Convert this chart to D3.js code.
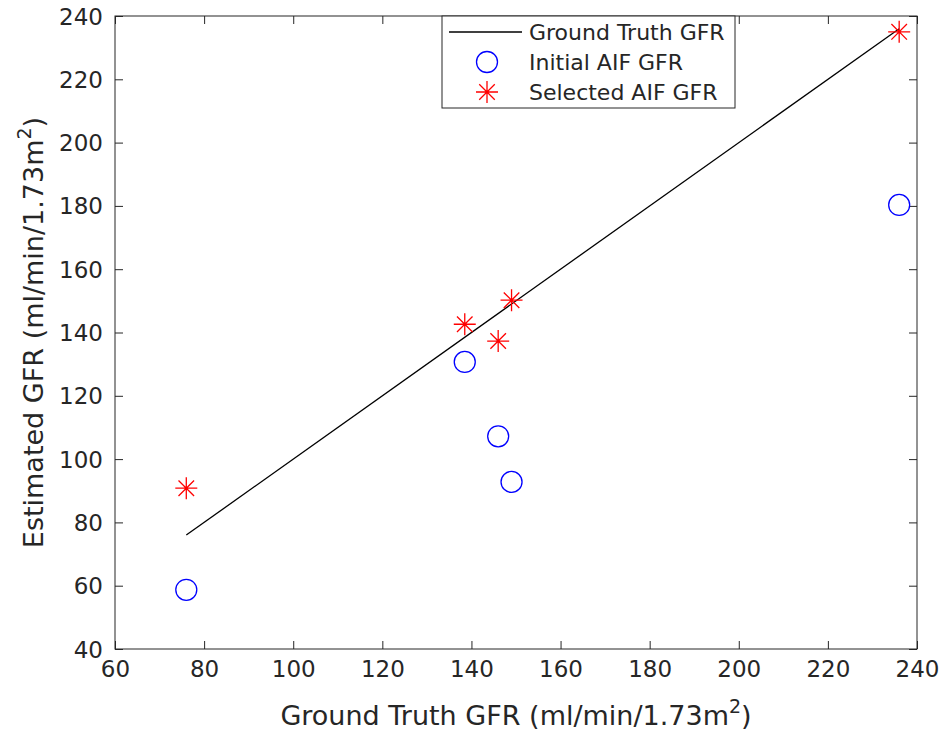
<!DOCTYPE html>
<html><head><meta charset="utf-8">
<script src="https://cdn.jsdelivr.net/npm/d3@7"></script>
<style>body{margin:0;background:#fff}svg{display:block}text{font-family:"DejaVu Sans",sans-serif;fill:#262626}</style>
</head><body>
<script>
const groundTruth = [76, 138.5, 146, 149, 236];
const initialAIF = [58.7, 130.7, 107.2, 92.8, 180.3];
const selectedAIF = [90.8, 142.6, 137.3, 150.2, 235];
const xTicks = [60,80,100,120,140,160,180,200,220,240];
const yTicks = [40,60,80,100,120,140,160,180,200,220,240];

const W=942,H=732, L=115,R=917,T=16,B=649;
const svg=d3.select("body").append("svg").attr("width",W).attr("height",H);
const x=d3.scaleLinear().domain([60,240]).range([L,R]);
const y=d3.scaleLinear().domain([40,240]).range([B,T]);
const ax="#262626";

svg.append("rect").attr("x",L).attr("y",T).attr("width",R-L).attr("height",B-T).attr("fill","none").attr("stroke",ax).attr("stroke-width",1);
const tl=8;
const gx=svg.append("g").attr("transform",`translate(0,${B})`).call(d3.axisBottom(x).tickValues(xTicks).tickSizeInner(-tl).tickSizeOuter(0).tickPadding(12));
const gy=svg.append("g").attr("transform",`translate(${L},0)`).call(d3.axisLeft(y).tickValues(yTicks).tickSizeInner(-tl).tickSizeOuter(0).tickPadding(12));
const gx2=svg.append("g").attr("transform",`translate(0,${T})`).call(d3.axisTop(x).tickValues(xTicks).tickSizeInner(-tl).tickSizeOuter(0).tickFormat(""));
const gy2=svg.append("g").attr("transform",`translate(${R},0)`).call(d3.axisRight(y).tickValues(yTicks).tickSizeInner(-tl).tickSizeOuter(0).tickFormat(""));
[gx,gy,gx2,gy2].forEach(g=>{g.select(".domain").remove();g.selectAll("line").attr("stroke",ax);g.selectAll("text").attr("font-size",23).attr("fill",ax).style("font-family","DejaVu Sans");});
gy.selectAll("text").attr("dy","0.35em");

const ext=d3.extent(groundTruth);
svg.append("path").attr("d",d3.line()([[x(ext[0]),y(ext[0])],[x(ext[1]),y(ext[1])]])).attr("stroke","#000").attr("stroke-width",1.3).attr("fill","none");

svg.selectAll("circle.ini").data(groundTruth.map((g,i)=>[g,initialAIF[i]])).join("circle")
 .attr("cx",d=>x(d[0])).attr("cy",d=>y(d[1])).attr("r",10.5).attr("fill","none").attr("stroke","#0000ff").attr("stroke-width",1.3);

function star(g,cx,cy,r){
  const d=r*0.707;
  g.append("path").attr("d",`M${cx-r},${cy}L${cx+r},${cy}M${cx},${cy-r}L${cx},${cy+r}M${cx-d},${cy-d}L${cx+d},${cy+d}M${cx-d},${cy+d}L${cx+d},${cy-d}`)
   .attr("stroke","#ff0000").attr("stroke-width",1.3).attr("fill","none");
}
const sg=svg.append("g");
groundTruth.forEach((g,i)=>star(sg,x(g),y(selectedAIF[i]),11));

const lg=svg.append("g");
lg.append("rect").attr("x",442).attr("y",T).attr("width",293).attr("height",92).attr("fill","#fff").attr("stroke",ax).attr("stroke-width",1);
lg.append("line").attr("x1",449).attr("x2",522).attr("y1",32).attr("y2",32).attr("stroke","#000").attr("stroke-width",1.3);
lg.append("circle").attr("cx",487).attr("cy",62).attr("r",10.5).attr("fill","none").attr("stroke","#0000ff").attr("stroke-width",1.3);
star(lg,487,92,11);
const legTexts=["Ground Truth GFR","Initial AIF GFR","Selected AIF GFR"];
legTexts.forEach((t,i)=>lg.append("text").attr("x",529).attr("y",32+30*i).attr("dy","0.35em").attr("font-size",22).text(t));

const xl=svg.append("text").attr("x",(L+R)/2).attr("y",725).attr("text-anchor","middle").attr("font-size",27);
xl.append("tspan").text("Ground Truth GFR (ml/min/1.73m");
xl.append("tspan").attr("font-size",19).attr("dy",-12).text("2");
xl.append("tspan").attr("dy",12).text(")");
const yl=svg.append("text").attr("transform",`translate(43,${(T+B)/2}) rotate(-90)`).attr("text-anchor","middle").attr("font-size",27);
yl.append("tspan").text("Estimated GFR (ml/min/1.73m");
yl.append("tspan").attr("font-size",19).attr("dy",-12).text("2");
yl.append("tspan").attr("dy",12).text(")");
</script>
</body></html>
